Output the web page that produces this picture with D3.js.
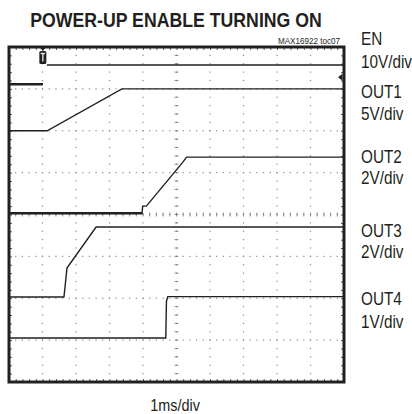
<!DOCTYPE html>
<html lang="en">
  <head>
    <meta charset="utf-8">
    <title>Power-up enable turning on</title>
    <script src="https://d3js.org/d3.v7.min.js"></script>
    <style>
      body { margin: 0; background: #fff; }
      text { font-family: "Liberation Sans", Arial, sans-serif; fill: #231f20; }
    </style>
  </head>
  <body>
    <script>
      // time in ms (1ms/div), level in scope divisions counted from the bottom edge
      var en = [[0, 7.11], [1.01, 7.11], null, [1.13, 7.57], [10, 7.57]]
      var out1 = [[0, 6.0], [1.14, 6.0], [3.37, 7.0], [10, 7.0]]
      var out2 = [[0, 4.03], [3.97, 4.03], [3.99, 4.2], [4.1, 4.2], [5.19, 5.25], [5.3, 5.37], [10, 5.37]]
      var out3 = [[0, 2.03], [1.64, 2.03], [1.67, 2.25], [1.73, 2.72], [2.6, 3.7], [10, 3.7]]
      var out4 = [[0, 1.05], [4.68, 1.05], [4.7, 1.93], [4.74, 2.04], [10, 2.04]]
      var triggerTime = 1.01
      var triggerLevel = 7.28
      var channelLabels = ["EN", "10V/div", "OUT1", "5V/div", "OUT2", "2V/div", "OUT3", "2V/div", "OUT4", "1V/div"]
      var title = "POWER-UP ENABLE TURNING ON"
      var partLabel = "MAX16922 toc07"
      var timeLabel = "1ms/div"

      var width = 412, height = 414
      var pL = 9, pR = 344, pT = 47, pB = 382

      var svg = d3.select("body").append("svg")
        .attr("width", width)
        .attr("height", height)

      var x = d3.scaleLinear().domain([0, 10]).range([pL, pR])
      var y = d3.scaleLinear().domain([0, 8]).range([pB, pT])

      var xMinor = x.ticks(50), yMinor = y.ticks(40)
      var xMajor = x.ticks(10).filter(function(d) { return d > 0 && d < 10 })
      var yMajor = y.ticks(8).filter(function(d) { return d > 0 && d < 8 })

      var grid = svg.append("g").attr("fill", "#8a8a8a")

      // dotted graticule
      xMajor.forEach(function(mx) {
        grid.selectAll(null).data(yMinor).enter().append("rect")
          .attr("x", x(mx) - 0.6).attr("y", function(d) { return y(d) - 0.6 })
          .attr("width", 1.2).attr("height", 1.2)
      })
      yMajor.forEach(function(my) {
        grid.selectAll(null).data(xMinor).enter().append("rect")
          .attr("x", function(d) { return x(d) - 0.6 }).attr("y", y(my) - 0.6)
          .attr("width", 1.2).attr("height", 1.2)
      })

      // small crosses on the centre lines
      svg.append("g").selectAll("line").data(yMinor).enter().append("line")
        .attr("x1", x(5) - 2).attr("x2", x(5) + 2)
        .attr("y1", function(d) { return y(d) }).attr("y2", function(d) { return y(d) })
        .attr("stroke", "#777").attr("stroke-width", 0.8)
      svg.append("g").selectAll("line").data(xMinor).enter().append("line")
        .attr("y1", y(4) - 2).attr("y2", y(4) + 2)
        .attr("x1", function(d) { return x(d) }).attr("x2", function(d) { return x(d) })
        .attr("stroke", "#777").attr("stroke-width", 0.8)

      // edge ticks
      function edge(axis, tr) {
        var g = svg.append("g").attr("transform", tr).call(axis.tickSize(3).tickFormat(""))
        g.select(".domain").remove()
        g.selectAll("line").attr("stroke", "#555")
      }
      edge(d3.axisBottom(x).ticks(50), "translate(0," + pT + ")")
      edge(d3.axisTop(x).ticks(50), "translate(0," + pB + ")")
      edge(d3.axisRight(y).ticks(40), "translate(" + pL + ",0)")
      edge(d3.axisLeft(y).ticks(40), "translate(" + pR + ",0)")

      // traces
      var line = d3.line()
        .defined(function(d) { return d !== null })
        .x(function(d) { return x(d[0]) })
        .y(function(d) { return y(d[1]) })

      var traces = [en, out1, out2, out3, out4]
      svg.append("g").selectAll("path").data(traces).enter().append("path")
        .attr("d", line)
        .attr("fill", "none")
        .attr("stroke", "#231f20")
        .attr("stroke-width", 1.4)

      // thicker (noisy) flat parts: EN before the trigger, OUT2 before it starts
      svg.append("g").selectAll("path").data([en.slice(0, 2), out2.slice(0, 2)]).enter().append("path")
        .attr("d", line)
        .attr("fill", "none")
        .attr("stroke", "#231f20").attr("stroke-width", 2.4)

      // frame
      svg.append("rect")
        .attr("x", pL).attr("y", pT)
        .attr("width", pR - pL).attr("height", pB - pT)
        .attr("fill", "none").attr("stroke", "#231f20").attr("stroke-width", 3)

      // trigger markers
      var tx = x(triggerTime)
      svg.append("path")
        .attr("d", "M" + (tx - 2.5) + "," + (pT + 1) + "L" + (tx + 2.5) + "," + (pT + 1) + "L" + tx + "," + (pT + 4) + "Z")
        .attr("fill", "#231f20")
      svg.append("rect")
        .attr("x", tx - 3.5).attr("y", pT + 4).attr("width", 7).attr("height", 13).attr("rx", 1.5)
        .attr("fill", "#231f20")
      svg.append("path")
        .attr("d", "M" + (tx - 2.2) + "," + (pT + 6.5) + "h4.4M" + tx + "," + (pT + 6.5) + "v8")
        .attr("stroke", "#ddd").attr("stroke-width", 1.4)
      var ty = y(triggerLevel)
      svg.append("path")
        .attr("d", "M" + (pR - 6) + "," + ty + "L" + (pR - 1.5) + "," + (ty - 3.5) + "L" + (pR - 1.5) + "," + (ty + 3.5) + "Z")
        .attr("fill", "#231f20")

      // text
      function label(txt, px, py, size, sx, anchor, weight) {
        svg.append("text")
          .attr("transform", "translate(" + px + "," + py + ") scale(" + sx + ",1)")
          .attr("text-anchor", anchor)
          .style("font-size", size + "px")
          .style("font-weight", weight || "normal")
          .text(txt)
      }
      label(title, 176, 27, 21, 0.843, "middle", "bold")
      label(partLabel, 340, 44, 9, 0.9, "end")
      label(timeLabel, 175, 411, 17, 0.85, "middle")

      var labelY = [45, 68, 98, 120, 163, 184, 237, 258, 305, 328]
      channelLabels.forEach(function(t, i) {
        label(t, 361, labelY[i], 18, 0.85, "start")
      })
    </script>
  </body>
</html>
